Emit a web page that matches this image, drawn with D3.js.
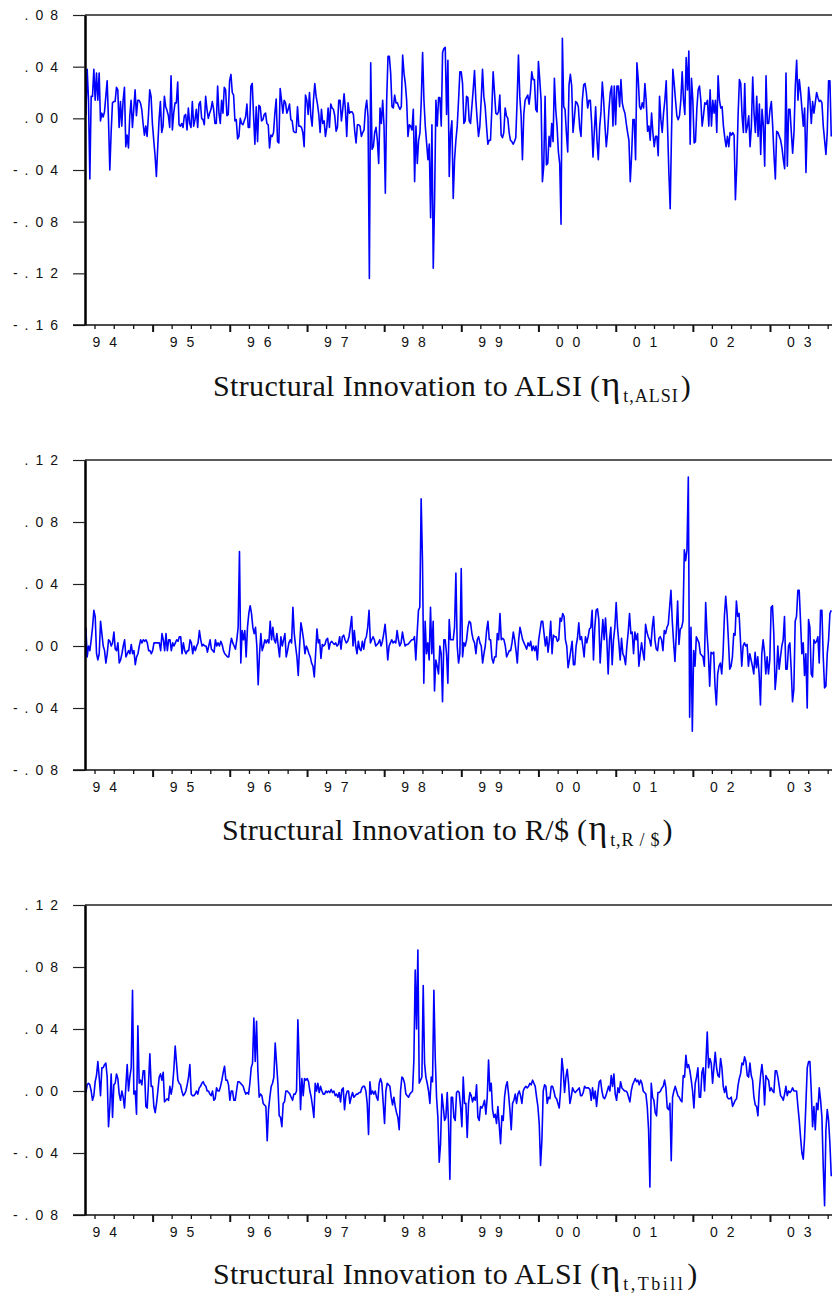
<!DOCTYPE html>
<html>
<head>
<meta charset="utf-8">
<script src="https://cdn.jsdelivr.net/npm/d3@7"></script>
<style>
  html, body { margin: 0; padding: 0; background: #fff; }
  svg { display: block; }
</style>
</head>
<body>
<svg id="chart" width="832" height="1299"></svg>
<script>
// Weekly structural innovations, Feb 1994 - Oct 2003
const sampleStart = new Date(1994, 1, 19);
const sampleEnd = new Date(2003, 9, 18);

const yearLabels = ["94", "95", "96", "97", "98", "99", "00", "01", "02", "03"];
const alsiTicks = [0.08, 0.04, 0, -0.04, -0.08, -0.12, -0.16];
const randTicks = [0.12, 0.08, 0.04, 0, -0.04, -0.08];
const tbillTicks = [0.12, 0.08, 0.04, 0, -0.04, -0.08];

const titleMain = ["Structural Innovation to ALSI (", "Structural Innovation to R/$ (", "Structural Innovation to ALSI ("];
const titleSub = ["t,ALSI", "t,R / $", "t,Tbill"];

const alsiValues = [
  .002,.038,.014,-.047,.017,.017,.038,.014,.035,.014,
  .035,-.002,.004,.001,.005,.017,.029,-.001,-.040,-.011,
  .012,.013,.013,.024,.022,-.007,.013,-.006,.014,.024,
  -.022,-.013,-.023,.002,.014,-.007,.007,.022,.002,.014,
  .014,.012,.007,-.004,-.013,-.006,-.014,.002,.022,.017,
  -.004,-.017,-.029,-.045,-.022,-.001,.013,-.011,-.006,.017,
  .009,.006,.002,-.007,.033,-.009,.004,.012,.012,.028,
  -.005,-.006,-.004,-.007,.002,.003,-.009,.008,-.004,-.007,
  .013,-.006,-.001,.007,-.007,.011,.013,.000,-.001,-.005,
  .017,.007,.000,.004,.007,.013,.007,-.004,-.004,.025,
  .004,-.004,.014,.004,.024,.022,.002,.003,.029,.034,
  .020,.018,-.002,-.001,-.016,-.014,.000,-.004,-.005,-.002,
  .001,.011,-.007,-.007,.025,.027,.002,-.020,.009,-.018,
  .010,.009,-.002,-.001,.003,.004,-.004,-.005,-.023,-.013,
  -.014,-.011,.004,.015,-.018,-.019,.023,
  .014,.004,.014,.012,.004,.007,.011,-.001,-.002,-.010,
  -.011,-.011,.009,-.006,-.006,-.007,-.011,-.022,.018,.014,
  .003,.020,.002,-.006,.014,.027,.017,.011,.003,-.011,
  .007,-.004,-.002,-.014,-.007,.008,-.007,.011,.008,.007,
  .002,-.010,-.007,.014,.014,-.002,.007,.019,.007,-.014,
  .012,.004,.005,.005,.003,-.010,-.019,-.005,-.005,-.006,
  -.014,-.011,-.009,.007,.014,.001,-.124,.043,-.024,-.022,
  -.011,-.007,-.017,-.035,.008,-.004,.014,-.006,-.058,.014,
  .048,.048,.035,.009,.008,.018,.012,.012,.009,.007,
  .009,.049,.035,.027,.014,-.014,-.005,-.006,-.009,.007,
  -.049,-.006,-.035,-.017,-.011,.014,.051,.014,-.006,-.019,
  -.032,-.020,-.077,-.005,-.116,-.063,.014,-.006,.016,.016,
  -.006,.051,.054,.055,.003,.045,-.045,-.011,-.002,-.062,
  -.032,-.017,-.006,.014,.036,.036,.027,-.004,-.002,.017,
  .016,-.002,-.004,.009,.022,.037,.014,-.001,-.014,-.006,
  .014,.038,.017,.009,-.006,-.020,-.017,-.017,.007,.036,
  .020,.004,.003,.005,.018,-.013,-.015,-.011,.008,.002,
  .000,-.011,-.017,-.018,-.020,-.018,-.015,.014,.049,.017,
  .002,-.032,.003,.014,.016,.018,.011,.020,.036,.030,
  .030,.007,.005,.044,.030,.014,-.049,-.037,.017,-.036,
  -.035,-.014,
  -.022,-.004,-.018,.031,.007,-.006,-.026,-.035,-.082,.062,
  .009,.007,-.011,-.026,.026,.034,.025,-.011,.000,.013,
  .012,.009,-.007,-.014,.014,.026,.027,.020,.008,.014,
  .014,-.004,-.030,-.010,.009,-.017,-.032,-.007,.005,.028,
  .014,-.006,-.022,-.011,.007,.020,.025,-.006,.025,-.005,
  .025,.025,.009,.030,.012,.007,.004,-.004,-.011,-.017,
  -.049,-.029,-.001,-.001,-.032,.043,.030,.009,.007,.012,
  .008,.027,.013,-.010,-.006,-.017,.004,-.011,-.022,-.014,
  -.014,-.029,.017,-.001,-.011,.004,.014,.029,-.006,-.042,
  -.070,-.011,.038,.027,.014,.002,-.001,.002,.014,.036,
  .014,.003,.047,.022,.052,-.020,.031,.014,-.019,-.018,
  .007,.022,.025,.014,-.006,.002,.012,.011,.014,-.006,
  .022,-.006,.014,.004,.014,-.011,.033,.014,.008,.009,
  -.006,-.015,-.022,-.014,-.022,-.011,-.013,-.011,-.013,-.063,
  -.037,.002,.030,.027,.002,-.011,.027,-.011,-.006,.002,
  -.022,-.006,.032,.004,-.011,.017,-.014,.011,-.028,.007,
  -.006,-.037,.033,-.004,-.004,.007,.013,-.006,-.029,-.047,
  -.010,-.011,-.014,-.017,-.023,-.032,-.039,.035,-.037,.007,
  .007,-.011,-.027,-.011,.025,.045,.014,.030,.020,.007,
  -.006,.008,-.042,-.004,.024,.014,-.004,.013,.004,.012,
  .020,.016,.013,.014,.012,-.006,-.017,-.028,-.011,.029,
  .029,-.014
];

const randValues = [
  .012,-.007,.000,-.003,.004,.012,.023,.019,-.005,-.009,
  -.005,.016,.008,.000,-.003,-.011,-.005,.004,.003,.000,
  .002,.009,-.002,-.003,.002,-.011,-.009,-.005,.000,.004,
  -.007,-.005,-.003,-.005,.001,-.005,-.003,-.012,-.007,-.005,
  .000,.004,.002,.004,.003,.004,.002,-.003,-.003,-.005,
  -.003,.002,.002,.002,.002,.002,-.003,.008,.004,-.003,
  .008,-.003,.004,.004,-.003,.002,.000,.002,.004,.003,
  .006,.006,-.005,.002,-.003,-.005,-.003,-.003,.004,.002,
  -.005,.000,-.003,.000,.002,.010,.004,.000,.001,.000,
  .000,-.004,.000,.004,-.002,-.003,-.004,.004,.000,.002,
  .000,.003,.001,-.003,-.005,-.006,-.007,-.007,.000,.005,
  .002,.000,-.002,.004,.012,.061,-.011,.010,.004,.010,
  -.007,.012,.021,.026,.021,.012,.008,.012,.000,-.025,
  -.005,.008,-.003,.000,.004,.002,.004,.002,.016,.004,
  .012,.004,.002,.008,.000,-.007,
  .006,.000,.004,.008,-.007,-.003,.002,.004,.002,.025,
  .008,.000,-.007,-.019,.000,.015,.010,.004,-.005,.000,
  -.002,-.005,-.007,-.011,-.013,-.020,-.005,.011,.002,.004,
  -.008,.001,.000,.001,.004,.005,-.002,.002,.003,.002,
  .001,.002,.000,.001,.006,-.002,.006,.007,.004,.002,
  .003,.006,.012,.019,.000,.010,.000,-.005,.003,-.002,
  -.003,.003,-.002,.004,.006,.012,.023,.002,.004,.006,
  .004,.000,.001,.002,.004,.000,.003,.008,.014,.004,
  -.009,.000,.002,.004,.002,.003,.002,.010,.004,.000,
  .002,.009,.004,.000,.001,.001,.002,.003,.004,.004,
  .006,-.009,.008,.023,.025,.095,.055,-.024,.016,-.005,
  .002,-.009,.025,-.005,.016,-.029,-.009,-.013,-.018,.000,
  -.005,-.036,.004,.004,-.005,-.024,.017,.004,.004,.004,
  .012,.047,.000,-.011,-.005,.050,-.007,.002,.000,.004,
  .012,.016,.015,.008,.004,.002,-.005,.004,.006,.002,
  .000,-.011,-.005,.000,.010,.016,.004,.004,-.008,-.011,
  -.007,-.007,.008,.004,.021,.004,.005,.004,.000,-.007,
  -.005,-.003,-.003,.002,.009,.004,-.003,-.011,.004,.012,
  .008,.004,.002,.000,-.002,.002,.000,.003,-.003,.000,
  -.003,.000,-.009,.004,.010,.016,.016,.008,.000,.006,
  -.004,
  .004,.016,-.005,.007,.006,.006,.003,.004,.018,.016,
  .021,.019,.004,.000,-.014,-.009,-.003,.003,-.012,-.012,
  .000,.005,.015,.004,.006,.000,-.007,.006,.002,.006,
  .011,.012,.023,-.009,.012,.023,.024,.017,-.011,.004,
  .017,.004,.018,.004,-.018,.004,.012,-.012,.004,.012,
  .028,.012,.002,-.009,.005,-.005,-.007,-.012,.000,.009,
  .021,.008,.009,-.005,.009,.004,.008,-.013,-.005,.002,
  -.004,-.009,.014,.009,.006,.004,.000,.012,.019,.004,
  -.002,-.003,.005,.006,.004,-.003,.010,.008,.012,.014,
  .025,.036,.016,.002,-.010,.008,.029,.001,.011,.012,
  .016,.062,.055,.062,.109,-.046,.012,-.055,-.003,-.013,
  .006,.004,.002,-.005,-.006,-.007,-.013,.028,.008,-.005,
  -.026,-.004,-.005,-.004,-.026,-.038,-.018,-.013,-.011,-.018,
  -.005,.019,.032,.021,.004,-.015,-.013,-.007,.008,.007,
  .029,.019,.021,.004,-.013,.000,.002,.000,.001,-.013,
  -.005,-.009,-.013,-.018,-.004,-.014,-.007,-.018,-.038,-.005,
  .004,-.004,-.018,-.007,-.018,-.009,.025,.026,.008,-.028,
  -.018,.000,-.015,-.007,.000,.004,.019,-.015,-.015,.000,
  .002,-.015,-.036,-.028,.016,.019,.036,.036,.016,-.005,
  .002,-.019,-.005,-.040,.017,.012,-.018,-.020,.004,.002,
  .003,.006,-.011,.023,.023,-.007,-.027,-.026,-.005,.004,
  .021,.023
];

const tbillValues = [
  -.001,.004,.005,.004,.000,-.006,-.003,.006,.010,.019,
  .009,-.003,.015,.015,.017,.018,.009,-.023,-.010,.011,
  -.017,.004,.005,.011,.008,-.002,-.006,.000,-.004,-.011,
  .003,.017,.000,.009,.015,.065,-.002,.000,-.015,.042,
  .005,.007,.004,.013,.013,-.010,-.011,.005,.024,.003,
  .003,-.010,-.014,-.008,.000,.009,.011,.007,.012,-.007,
  -.006,-.005,-.006,.003,-.002,.003,.014,.029,.018,.007,
  .005,.004,.000,-.003,-.002,.000,.004,.009,.017,-.002,
  -.003,-.003,-.002,.000,-.002,.002,.003,.005,.006,.004,
  .003,.000,.000,-.002,-.003,.000,-.006,-.005,.002,.000,
  .000,.003,.007,.012,.016,.007,.007,.004,-.006,.000,
  .000,-.006,-.006,.000,.006,.006,.005,.004,.003,.000,
  -.002,-.001,-.002,.005,.015,.018,.047,.019,.045,.013,
  -.004,-.002,-.003,-.008,-.009,-.010,-.032,-.012,-.004,.003,
  .005,.009,.031,.018,.005,-.016,
  -.017,-.023,-.008,-.007,.000,.000,-.001,-.002,-.004,-.006,
  -.002,-.002,.000,.046,.018,-.012,.008,-.003,.008,.007,
  .008,.006,.000,-.004,-.010,-.017,.005,.000,.005,-.001,
  .003,.000,-.002,-.002,.000,-.001,.000,-.001,.001,-.001,
  .000,-.003,-.002,-.004,-.001,-.007,.001,.002,-.012,-.003,
  .000,.000,-.008,-.004,-.001,-.004,-.003,-.002,-.002,-.001,
  -.001,.002,.003,.003,.000,-.008,-.028,.006,-.002,.000,
  -.002,.000,-.004,-.006,.005,.008,.005,-.008,-.021,.000,
  .005,.004,.003,-.004,-.009,-.004,-.010,-.014,-.017,-.025,
  .000,.009,.008,.005,-.002,-.003,-.004,-.002,-.001,.000,
  .020,.078,.040,.091,.005,.007,.009,.068,.018,.009,
  .005,.000,-.008,.009,.006,.065,.022,-.004,-.017,-.046,
  -.034,-.002,-.010,-.019,-.017,-.001,-.021,-.057,-.004,-.004,
  -.017,-.019,-.001,.000,-.001,-.010,-.023,.009,-.008,-.008,
  -.030,-.008,-.001,-.003,-.007,-.004,-.006,.004,-.017,-.019,
  -.010,-.011,-.009,-.006,-.015,-.004,.020,.000,.005,-.012,
  -.017,-.015,-.021,-.010,-.022,-.034,-.016,-.019,-.004,.003,
  .006,-.002,-.012,-.025,-.008,-.006,-.002,-.008,-.002,.000,
  -.003,-.008,.000,.002,.003,.002,.003,.005,.004,.007,
  .005,.003,-.004,-.010,-.021,-.048,-.032,.000,.004,.003,
  -.008,-.004,
  -.005,.003,.003,.000,-.004,-.005,-.008,-.011,.000,.021,
  .013,-.001,.009,.014,.005,-.008,-.004,.002,.000,-.001,
  .000,.001,.002,-.003,-.003,-.001,.003,.002,.002,.002,
  .001,-.006,.002,-.005,.000,-.010,-.001,.006,.007,.000,
  -.004,-.005,-.003,.000,.003,.000,.010,.003,.011,-.002,
  -.006,.002,-.001,.006,.002,.001,.000,.000,-.001,-.004,
  -.007,.000,.004,.006,.008,.006,.007,.004,.007,.005,
  .000,-.001,-.002,-.010,-.025,-.062,.005,-.004,-.006,-.014,
  -.016,-.001,-.001,.000,.002,.003,.007,.002,-.011,-.012,
  -.008,-.045,-.004,.000,.003,.000,-.003,-.004,-.006,-.007,
  .010,.009,.023,.015,.017,.013,.007,.000,-.011,.005,
  .009,.015,-.004,-.004,.012,.015,.000,.018,.038,.015,
  .021,.018,.005,.015,.025,.015,.010,.009,.021,.015,
  .003,-.001,.003,-.004,-.005,-.005,-.004,-.010,-.008,-.006,
  -.005,.003,.008,.011,.018,.017,.022,.019,.010,.009,
  .018,.010,.007,-.004,-.009,-.010,-.016,.000,.010,.017,
  .009,-.009,.010,.008,.007,.000,.002,.000,-.001,.013,
  .013,.009,.003,-.003,-.004,-.006,-.002,.003,-.003,.000,
  -.001,.000,.002,.000,.000,.000,-.010,-.019,-.030,-.040,
  -.044,-.030,-.008,.015,.019,.019,.000,-.023,-.010,-.025,
  -.008,-.012,.002,-.006,-.017,-.049,-.074,-.025,-.012,-.019,
  -.034,-.055
];

// ---- layout ----
const svg = d3.select("#chart");
const plotLeft = 85, plotRight = 848, panelHeight = 310;
const panels = [
  { values: alsiValues, ticks: alsiTicks, domain: [-0.16, 0.08], top: 15, titleX: 213, titleY: 396, subSpacing: 1 },
  { values: randValues, ticks: randTicks, domain: [-0.08, 0.12], top: 460, titleX: 222, titleY: 840, subSpacing: 0.8 },
  { values: tbillValues, ticks: tbillTicks, domain: [-0.08, 0.12], top: 905, titleX: 213, titleY: 1284, subSpacing: 2.5 }
];

const x = d3.scaleTime()
  .domain([new Date(1994, 0, 1), new Date(2004, 0, 1)])
  .range([75.5, 847.1]);

const tickFmt = v => (v < 0 ? "-" : "") + "." + String(Math.round(Math.abs(v) * 100)).padStart(2, "0");
const axisFont = "'Liberation Sans', Arial, sans-serif";
const labelSpacing = 7;

const yearTicks = d3.timeYear.range(new Date(1994, 0, 1), new Date(2004, 0, 2)).filter(d => x(d) > plotLeft);
const quarterTicks = d3.timeMonth.every(3).range(new Date(1994, 0, 1), new Date(2004, 0, 2))
  .filter(d => d.getMonth() !== 0 && x(d) > plotLeft);

panels.forEach((p, k) => {
  const bottom = p.top + panelHeight;
  const y = d3.scaleLinear().domain(p.domain).range([bottom, p.top]);
  const g = svg.append("g");
  const n = p.values.length;
  const dates = p.values.map((_, i) => new Date(+sampleStart + (sampleEnd - sampleStart) * i / (n - 1)));

  g.append("clipPath").attr("id", "plot-clip-" + k)
    .append("rect").attr("x", plotLeft).attr("y", p.top - 1)
    .attr("width", plotRight - plotLeft).attr("height", panelHeight + 2);

  // top border of the frame
  g.append("line")
    .attr("x1", plotLeft).attr("x2", plotRight)
    .attr("y1", p.top).attr("y2", p.top)
    .attr("stroke", "#222").attr("stroke-width", 1.3);

  // series
  g.append("path")
    .datum(p.values)
    .attr("clip-path", `url(#plot-clip-${k})`)
    .attr("fill", "none")
    .attr("stroke", "#0000ff")
    .attr("stroke-width", 1.6)
    .attr("stroke-linejoin", "round")
    .attr("d", d3.line().x((d, i) => x(dates[i])).y(d => y(d)));

  // left value axis
  const yAxis = g.append("g")
    .attr("transform", `translate(${plotLeft},0)`)
    .call(d3.axisLeft(y).tickValues(p.ticks).tickSize(12).tickSizeOuter(0).tickPadding(15).tickFormat(tickFmt));
  yAxis.select(".domain").attr("stroke", "#000").attr("stroke-width", 2.5);
  yAxis.selectAll(".tick line").attr("stroke", "#222").attr("stroke-width", 1.2);
  yAxis.selectAll(".tick text")
    .attr("font-family", axisFont).attr("font-size", 14).attr("fill", "#111")
    .attr("letter-spacing", labelSpacing)
    .attr("dx", labelSpacing);

  // bottom date axis: quarterly minor ticks and yearly major ticks
  const minor = g.append("g")
    .attr("transform", `translate(0,${bottom})`)
    .call(d3.axisBottom(x).tickValues(quarterTicks).tickSize(4).tickSizeOuter(0).tickFormat(""));
  minor.select(".domain").remove();
  minor.selectAll(".tick line").attr("stroke", "#111").attr("stroke-width", 1.3);

  const major = g.append("g")
    .attr("transform", `translate(0,${bottom})`)
    .call(d3.axisBottom(x).tickValues(yearTicks).tickSize(7).tickSizeOuter(0).tickFormat(""));
  major.select(".domain").remove();
  major.selectAll(".tick line").attr("stroke", "#111").attr("stroke-width", 2);

  g.append("line")
    .attr("x1", plotLeft - 12).attr("x2", plotRight)
    .attr("y1", bottom).attr("y2", bottom)
    .attr("stroke", "#111").attr("stroke-width", 1.3);

  g.selectAll("text.year")
    .data(yearLabels)
    .join("text")
    .attr("class", "year")
    .attr("x", (d, i) => x(new Date(1994 + i, 3, 1)) - 2)
    .attr("y", bottom + 22)
    .attr("font-family", axisFont).attr("font-size", 14).attr("fill", "#111")
    .attr("letter-spacing", 9)
    .text(d => d);

  // caption
  const t = g.append("text")
    .attr("x", p.titleX).attr("y", p.titleY)
    .attr("font-family", "'Liberation Serif', 'Times New Roman', serif")
    .attr("font-size", 30).attr("fill", "#111");
  t.append("tspan").attr("letter-spacing", 0.35).text(titleMain[k]);
  t.append("tspan").attr("font-size", 36).attr("dx", 1).text("η");
  t.append("tspan").attr("font-size", 18).attr("letter-spacing", p.subSpacing).attr("dy", 6).attr("dx", 3).text(titleSub[k]);
  t.append("tspan").attr("dy", -6).attr("dx", 2).text(")");
});
</script>
</body>
</html>
